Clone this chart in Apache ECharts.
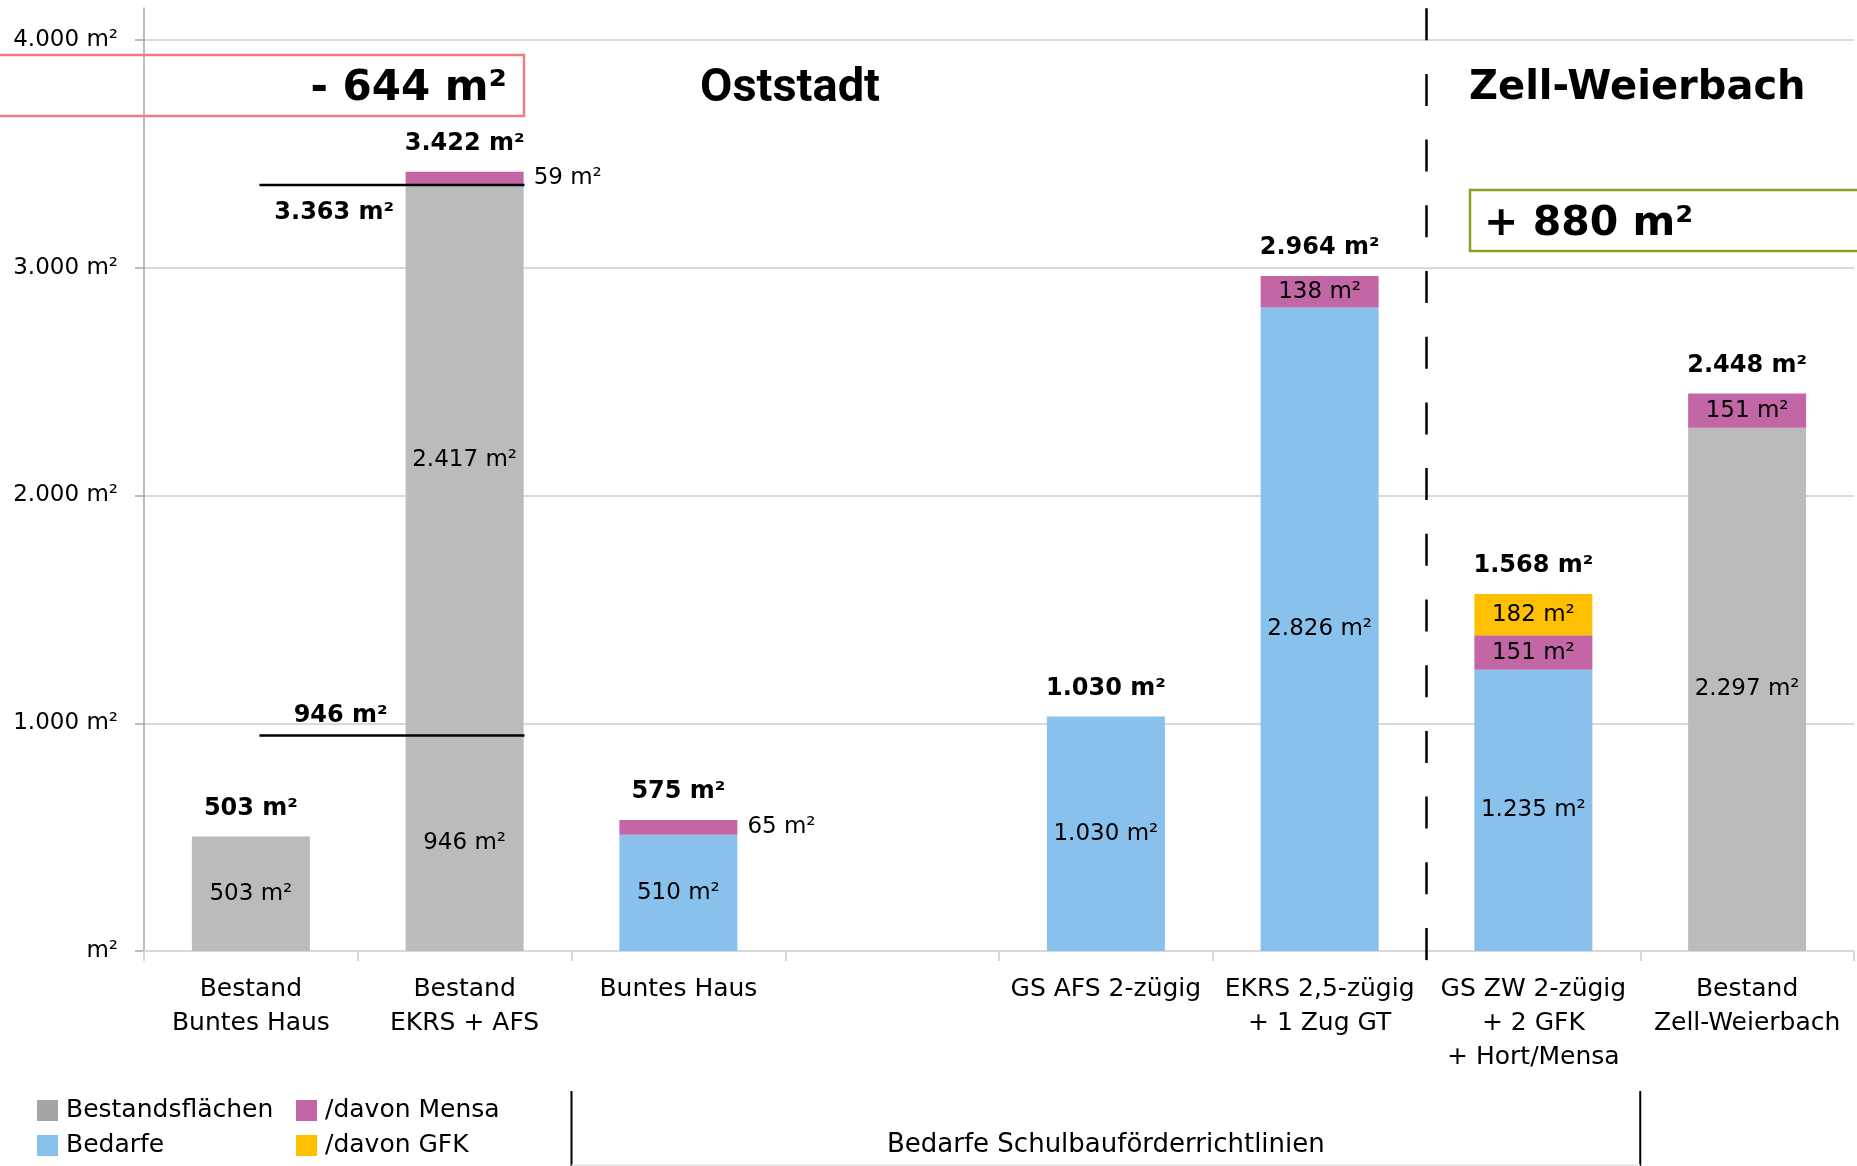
<!DOCTYPE html>
<html>
<head>
<meta charset="utf-8">
<title>Flächen Oststadt / Zell-Weierbach</title>
<script src="https://cdn.jsdelivr.net/npm/echarts@6/dist/echarts.min.js"></script>
<style>
html, body { margin: 0; padding: 0; background: #fff; }
#chart { width: 1857px; height: 1166px; }
</style>
</head>
<body>
<div id="chart"></div>
<script>
// Daten
const categories = ['Bestand\nBuntes Haus', 'Bestand\nEKRS + AFS', 'Buntes Haus', '', 'GS AFS 2-zügig', 'EKRS 2,5-zügig\n+ 1 Zug GT', 'GS ZW 2-zügig\n+ 2 GFK\n+ Hort/Mensa', 'Bestand\nZell-Weierbach']
const bestandA = [503, 946, null, null, null, null, null, 2297]
const bestandB = [null, 2417, null, null, null, null, null, null]
const bedarfe = [null, null, 510, null, 1030, 2826, 1235, null]
const mensa = [null, 59, 65, null, null, 138, 151, 151]
const gfk = [null, null, null, null, null, null, 182, null]
const totals = [503, 3422, 575, null, 1030, 2964, 1568, 2448]
const bestandLines = [3363, 946]
const yTicks = [0, 1000, 2000, 3000, 4000]
const diffOststadt = -644
const diffZell = 880

const FONT = 'DejaVu Sans'
const fmt = v => String(v).replace(/\B(?=(\d{3})+(?!\d))/g, '.') + ' m²'
const fmtDiff = v => (v < 0 ? '- ' : '+ ') + fmt(Math.abs(v))

const mensaOutside = [1, 2]   // Label rechts neben dem Balken
const lineFrom = 0.54, lineTo = 1.78, lineLabelX = 0.89

const barLabel = {
    show: true,
    position: 'inside',
    color: '#000',
    fontFamily: FONT,
    fontSize: 23,
    formatter: p => fmt(p.value)
}

const bar = (name, data, color) => ({
    name: name,
    type: 'bar',
    stack: 'flaeche',
    barWidth: 118,
    data: data,
    itemStyle: { color: color },
    label: barLabel,
    silent: true
})

const legendBase = {
    orient: 'vertical', top: 1098, height: 80, padding: 0,
    itemWidth: 21, itemHeight: 21, itemGap: 10, icon: 'rect', selectedMode: false,
    textStyle: { fontFamily: FONT, fontSize: 25, color: '#000', padding: [0, 0, 0, 3] }
}

const option = {
    animation: false,
    backgroundColor: '#fff',
    grid: [
        { left: 144, right: 3, top: 40, bottom: 215 },
        { left: 144, right: 3, top: 8, bottom: 206 }
    ],
    legend: [
        Object.assign({}, legendBase, {
            left: 37,
            data: [{ name: 'Bestandsflächen', itemStyle: { color: '#a5a5a5' } }, 'Bedarfe']
        }),
        Object.assign({}, legendBase, {
            left: 296,
            data: ['/davon Mensa', '/davon GFK']
        })
    ],
    xAxis: [
        {
            type: 'category',
            gridIndex: 0,
            data: categories,
            axisLine: { lineStyle: { color: '#d9d9d9', width: 2 } },
            axisTick: { show: true, length: 10, interval: 0, lineStyle: { color: '#d9d9d9', width: 2 } },
            axisLabel: { interval: 0, margin: 21, fontFamily: FONT, fontSize: 25, lineHeight: 34, color: '#000' }
        },
        { type: 'value', gridIndex: 0, min: 0, max: 8, show: false },
        { type: 'value', gridIndex: 1, min: 0, max: 8, show: false }
    ],
    yAxis: [
        {
            type: 'value',
            gridIndex: 0,
            min: yTicks[0],
            max: yTicks[yTicks.length - 1],
            interval: 1000,
            axisLine: { show: false },
            axisTick: { show: true, length: 9, lineStyle: { color: '#a6a6a6', width: 1.5 } },
            axisLabel: {
                margin: 26, fontFamily: FONT, fontSize: 23, color: '#000',
                formatter: v => v === 0 ? 'm²' : fmt(v)
            },
            splitLine: { lineStyle: { color: '#d9d9d9', width: 2 } }
        },
        {
            type: 'value',
            gridIndex: 1,
            min: 0, max: 1,
            axisLine: { show: true, lineStyle: { color: '#a6a6a6', width: 1.5 } },
            axisTick: { show: false },
            axisLabel: { show: false },
            splitLine: { show: false }
        }
    ],
    series: [
        bar('Bestandsflächen', bestandA, '#bbbbbb'),
        bar('Bestandsflächen', bestandB, '#bbbbbb'),
        bar('Bedarfe', bedarfe, '#87c1ec'),
        bar('/davon Mensa', mensa.map((v, i) =>
            v != null && mensaOutside.includes(i)
                ? { value: v, label: { position: 'right', distance: 10 } }
                : v), '#c266a5'),
        bar('/davon GFK', gfk, '#ffc000'),
        {
            type: 'scatter',
            data: totals,
            symbolSize: 0,
            silent: true,
            z: 5,
            itemStyle: { opacity: 1 },
            label: {
                show: true, position: 'top', distance: 16,
                fontFamily: FONT, fontWeight: 'bold', fontSize: 24, color: '#000',
                formatter: p => fmt(p.value)
            }
        },
        ...bestandLines.map(v => ({
            type: 'line',
            xAxisIndex: 1,
            yAxisIndex: 0,
            data: [[lineFrom, v], [lineTo, v]],
            symbol: 'none',
            silent: true,
            z: 4,
            lineStyle: { color: '#000', width: 2.5 }
        })),
        {
            type: 'scatter',
            xAxisIndex: 1,
            yAxisIndex: 0,
            symbolSize: 0,
            silent: true,
            z: 5,
            itemStyle: { opacity: 1 },
            data: bestandLines.map((v, i) => ({
                value: [i === 0 ? lineLabelX : lineLabelX + 0.03, v],
                label: i === 0 ? { position: 'bottom', distance: 16 } : { position: 'top', distance: 8 }
            })),
            label: {
                show: true,
                fontFamily: FONT, fontWeight: 'bold', fontSize: 24, color: '#000',
                formatter: p => fmt(p.value[1])
            }
        },
        {
            // Trennlinie Oststadt / Zell-Weierbach
            type: 'line',
            xAxisIndex: 2,
            yAxisIndex: 1,
            data: [[6, 0]],
            symbol: 'none',
            silent: true,
            markLine: {
                silent: true,
                symbol: ['none', 'none'],
                label: { show: false },
                lineStyle: { color: '#000', width: 2.5, type: [32, 33.7] },
                data: [{ xAxis: 6 }]
            }
        }
    ]
}

const chart = echarts.init(document.getElementById('chart'))
chart.setOption(option)

const px = v => chart.convertToPixel({ xAxisIndex: 1 }, v)
const txt = (text, x, y, font, align) => ({
    type: 'text',
    silent: true,
    style: {
        text: text, x: x, y: y, font: font, fill: '#000',
        align: align, verticalAlign: 'middle',
        textAlign: align, textVerticalAlign: 'middle'
    }
})
const bracketL = px(2), bracketR = px(7)

chart.setOption({
    graphic: [
        {
            type: 'rect', silent: true,
            shape: { x: -10, y: 55, width: 534, height: 61 },
            style: { fill: 'none', stroke: '#f47b7b', lineWidth: 2.5 }
        },
        txt(fmtDiff(diffOststadt), 507, 89, 'bold 42px "DejaVu Sans"', 'right'),
        txt('Oststadt', 790, 89, 'bold 47px Roboto', 'center'),
        txt('Zell-Weierbach', 1469, 89, 'bold 40px "DejaVu Sans"', 'left'),
        {
            type: 'rect', silent: true,
            shape: { x: 1470, y: 190, width: 420, height: 61 },
            style: { fill: 'none', stroke: '#86a02b', lineWidth: 2.5 }
        },
        txt(fmtDiff(diffZell), 1484, 224, 'bold 41px "DejaVu Sans"', 'left'),
        {
            type: 'line', silent: true,
            shape: { x1: bracketL, y1: 1091, x2: bracketL, y2: 1166 },
            style: { stroke: '#000', lineWidth: 2 }
        },
        {
            type: 'line', silent: true,
            shape: { x1: bracketR, y1: 1091, x2: bracketR, y2: 1166 },
            style: { stroke: '#000', lineWidth: 2 }
        },
        {
            type: 'line', silent: true,
            shape: { x1: bracketL, y1: 1165, x2: bracketR, y2: 1165 },
            style: { stroke: '#e6e6e6', lineWidth: 1.5 }
        },
        txt('Bedarfe Schulbauförderrichtlinien', (bracketL + bracketR) / 2, 1145, '26px "DejaVu Sans"', 'center')
    ]
})

window.addEventListener('resize', () => chart.resize())
</script>
</body>
</html>
